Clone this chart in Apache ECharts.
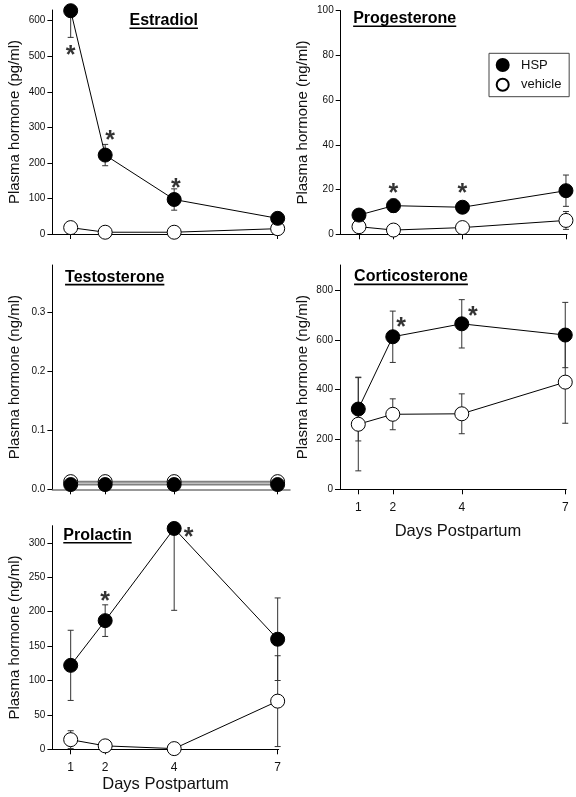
<!DOCTYPE html>
<html><head><meta charset="utf-8">
<script src="https://cdn.jsdelivr.net/npm/echarts@6/dist/echarts.min.js"></script>
<style>html,body{margin:0;padding:0;background:#fff}#c{width:576px;height:797px}</style>
</head><body><div id="c"></div>
<script>
// ---------- DATA ----------
const days = [1, 2, 4, 7];
const xTickLabels = [1, 2, 4, 7];
const legendNames = ['HSP', 'vehicle'];

// Estradiol (pg/ml)
const estradiolHSP = [628, 222, 97, 44];
const estradiolHSPErr = [75, 30, 30, 0];
const estradiolVeh = [18, 5, 5, 15];
const estradiolVehErr = [0, 0, 0, 0];
const estradiolStars = [[1, 517], [2.14, 278], [4.05, 144]];
const estradiolTicks = [0, 100, 200, 300, 400, 500, 600];

// Progesterone (ng/ml)
const progHSP = [8.6, 12.8, 12.1, 19.5];
const progHSPErr = [2, 3, 2, 7];
const progVeh = [3.4, 1.9, 3.0, 6.2];
const progVehErr = [1, 1, 1, 4];
const progStars = [[2, 20.6], [4, 20.6]];
const progTicks = [0, 20, 40, 60, 80, 100];

// Testosterone (ng/ml)
const testoHSP = [0.008, 0.008, 0.008, 0.008];
const testoVeh = [0.013, 0.013, 0.013, 0.013];
const testoTicks = [0, 0.1, 0.2, 0.3];

// Corticosterone (ng/ml)
const corticoHSP = [322, 612, 664, 619];
const corticoHSPErr = [128, 103, 97, 131];
const corticoVeh = [261, 301, 303, 430];
const corticoVehErr = [187, 62, 80, 165];
const corticoStars = [[2.24, 669], [4.32, 713]];
const corticoTicks = [0, 200, 400, 600, 800];

// Prolactin (ng/ml)
const prolHSP = [122, 187, 321, 160];
const prolHSPErr = [51, 23, 119, 60];
const prolVeh = [14, 5, 1, 70];
const prolVehErr = [13, 0, 0, 66];
const prolStars = [[2, 222], [4.42, 316]];
const prolTicks = [0, 50, 100, 150, 200, 250, 300];

// ---------- LAYOUT ----------
const FONT = '"Liberation Sans", Arial, sans-serif';
const panels = [
  {title: 'Estradiol', grid: {left: 52.4, top: 10, width: 226.3, height: 224}, xmax: 7.03, ymax: 630,
   yTicks: estradiolTicks, unit: 'Plasma hormone (pg/ml)', hsp: estradiolHSP, hspErr: estradiolHSPErr,
   veh: estradiolVeh, vehErr: estradiolVehErr, stars: estradiolStars, tcx: 163.7, tcy: 20.8},
  {title: 'Progesterone', grid: {left: 340.7, top: 10.7, width: 226.3, height: 223.6}, xmax: 7.03, ymax: 100,
   yTicks: progTicks, unit: 'Plasma hormone (ng/ml)', hsp: progHSP, hspErr: progHSPErr,
   veh: progVeh, vehErr: progVehErr, stars: progStars, tcx: 404.7, tcy: 18.8},
  {title: 'Testosterone', grid: {left: 52.4, top: 265, width: 237.6, height: 224.3}, xmax: 7.36, ymax: 0.38,
   yTicks: testoTicks, unit: 'Plasma hormone (ng/ml)', hsp: testoHSP, hspErr: null,
   veh: testoVeh, vehErr: null, stars: [], tcx: 114.7, tcy: 277.2, grey: true, dec: 1},
  {title: 'Corticosterone', grid: {left: 340, top: 265, width: 226.3, height: 224.3}, xmax: 7.03, ymax: 900,
   yTicks: corticoTicks, unit: 'Plasma hormone (ng/ml)', hsp: corticoHSP, hspErr: corticoHSPErr,
   veh: corticoVeh, vehErr: corticoVehErr, stars: corticoStars, tcx: 411, tcy: 277, xLabels: true, xNameGap: 34, xNamePad: 9.6},
  {title: 'Prolactin', grid: {left: 52.4, top: 525.7, width: 226.3, height: 223.6}, xmax: 7.03, ymax: 325,
   yTicks: prolTicks, unit: 'Plasma hormone (ng/ml)', hsp: prolHSP, hspErr: prolHSPErr,
   veh: prolVeh, vehErr: prolVehErr, stars: prolStars, tcx: 97.5, tcy: 535.4, xLabels: true, xNameGap: 27, xNamePad: 0}
];

function errRender(ymax) {
  return function (params, api) {
    const x = api.value(0), v = api.value(1), e = api.value(2);
    if (!e) return null;
    const lo = Math.max(v - e, 0), hi = Math.min(v + e, ymax);
    const p1 = api.coord([x, lo]), p2 = api.coord([x, hi]);
    const st = {stroke: '#333', lineWidth: 1};
    const ch = [{type: 'line', shape: {x1: p1[0], y1: p1[1], x2: p2[0], y2: p2[1]}, style: st}];
    const cw = 3;
    if (v - e >= 0) ch.push({type: 'line', shape: {x1: p1[0] - cw, y1: p1[1], x2: p1[0] + cw, y2: p1[1]}, style: st});
    if (v + e <= ymax) ch.push({type: 'line', shape: {x1: p2[0] - cw, y1: p2[1], x2: p2[0] + cw, y2: p2[1]}, style: st});
    return {type: 'group', children: ch};
  };
}

const grids = [], xAxes = [], yAxes = [], series = [], graphics = [];
const mc = document.createElement('canvas').getContext('2d');
mc.font = 'bold 16px ' + FONT;

panels.forEach((p, i) => {
  grids.push(Object.assign({containLabel: false, outerBoundsMode: 'none'}, p.grid));
  xAxes.push({
    type: 'value', gridIndex: i, min: 0.47, max: p.xmax, splitLine: {show: false},
    axisLine: {show: true, onZero: false, lineStyle: {color: p.grey ? '#777' : '#000', width: p.grey ? 1.5 : 1}},
    axisTick: {show: true, length: 5, inside: false, customValues: days, lineStyle: {color: '#000'}},
    axisLabel: {show: !!p.xLabels, customValues: xTickLabels, margin: 12, fontSize: 12, color: '#111', fontFamily: FONT},
    name: p.xLabels ? 'Days Postpartum' : '', nameLocation: 'middle', nameGap: p.xNameGap || 30,
    nameTextStyle: {fontSize: 16.5, color: '#111', fontFamily: FONT, padding: [0, 0, 0, p.xNamePad || 0]}
  });
  yAxes.push({
    type: 'value', gridIndex: i, min: 0, max: p.ymax, splitLine: {show: false},
    axisLine: {show: true, onZero: false, lineStyle: {color: '#000', width: 1}},
    axisTick: {show: true, length: 5, inside: false, customValues: p.yTicks, lineStyle: {color: '#000'}},
    axisLabel: {show: true, customValues: p.yTicks, margin: 7, fontSize: 10, color: '#111', fontFamily: FONT,
      formatter: v => p.dec ? v.toFixed(p.dec) : String(v)},
    name: p.unit, nameLocation: 'middle', nameGap: 30, nameRotate: 90,
    nameTextStyle: {fontSize: 15, color: '#111', fontFamily: FONT}
  });
  if (p.hspErr) {
    series.push({type: 'custom', name: 'errHSP' + i, xAxisIndex: i, yAxisIndex: i, z: 1,
      renderItem: errRender(p.ymax), encode: {x: 0, y: 1},
      data: days.map((d, k) => [d, p.hsp[k], p.hspErr[k]])});
    series.push({type: 'custom', name: 'errVeh' + i, xAxisIndex: i, yAxisIndex: i, z: 1,
      renderItem: errRender(p.ymax), encode: {x: 0, y: 1},
      data: days.map((d, k) => [d, p.veh[k], p.vehErr[k]])});
  }
  const lineCol = p.grey ? '#808080' : '#000';
  const lw = p.grey ? 2 : 1;
  series.push({type: 'line', name: 'vehicle', xAxisIndex: i, yAxisIndex: i, z: 2,
    data: days.map((d, k) => [d, p.veh[k]]), symbol: 'circle', symbolSize: 14, showSymbol: true,
    lineStyle: {color: lineCol, width: lw}, itemStyle: {color: '#fff', borderColor: '#000', borderWidth: 1},
    emphasis: {disabled: true}});
  series.push({type: 'line', name: 'HSP', xAxisIndex: i, yAxisIndex: i, z: 3,
    data: days.map((d, k) => [d, p.hsp[k]]), symbol: 'circle', symbolSize: 14, showSymbol: true,
    lineStyle: {color: lineCol, width: lw}, itemStyle: {color: '#000', borderColor: '#000', borderWidth: 1},
    emphasis: {disabled: true}});
  if (p.stars.length) {
    series.push({type: 'scatter', name: 'stars' + i, xAxisIndex: i, yAxisIndex: i, z: 4,
      data: p.stars, symbolSize: 1, itemStyle: {color: 'rgba(0,0,0,0)'},
      label: {show: true, formatter: '*', position: 'inside', fontSize: 25, fontWeight: 'bold', color: '#000',
        fontFamily: FONT, offset: [0, 6]}});
  }
  const w = mc.measureText(p.title).width;
  graphics.push({type: 'text', x: p.tcx, y: p.tcy, style: {text: p.title, font: 'bold 16px ' + FONT,
    fill: '#000', align: 'center', verticalAlign: 'middle'}});
  graphics.push({type: 'rect', shape: {x: p.tcx - w / 2, y: p.tcy + 6.6, width: w, height: 1.6}, style: {fill: '#000'}});
});

const chart = echarts.init(document.getElementById('c'), null, {renderer: 'canvas'});
chart.setOption({
  animation: false,
  backgroundColor: '#fff',
  grid: grids, xAxis: xAxes, yAxis: yAxes, series: series, graphic: graphics,
  legend: {data: legendNames, orient: 'vertical', left: 489, top: 53.3, icon: 'circle',
    itemWidth: 26.6, itemHeight: 12, itemGap: 5.7, padding: [4.7, 7.7, 5, 6.7],
    borderColor: '#444', borderWidth: 1, selectedMode: false,
    textStyle: {fontSize: 13, color: '#111', fontFamily: FONT}}
});
</script></body></html>
